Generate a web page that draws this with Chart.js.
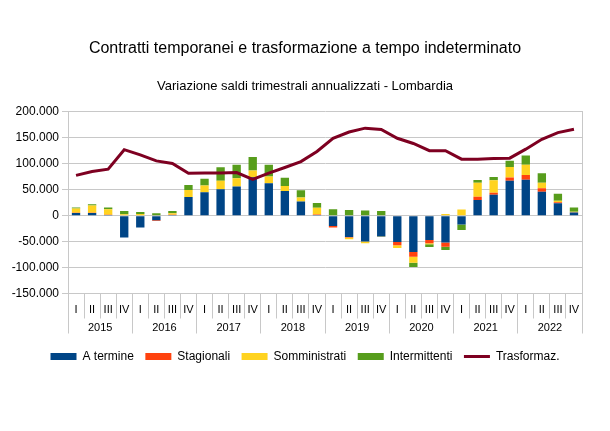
<!DOCTYPE html>
<html>
<head>
<meta charset="utf-8">
<script src="https://cdn.jsdelivr.net/npm/chart.js@4.4.1/dist/chart.umd.min.js"></script>
<style>
  html, body { margin: 0; padding: 0; background: #ffffff; }
  #wrap { width: 610px; height: 431px; }
</style>
</head>
<body>
<div id="wrap"><canvas id="c" width="610" height="431"></canvas></div>
<script>
const quarters = ['I','II','III','IV','I','II','III','IV','I','II','III','IV','I','II','III','IV',
                  'I','II','III','IV','I','II','III','IV','I','II','III','IV','I','II','III','IV'];
const years = ['2015','2016','2017','2018','2019','2020','2021','2022'];

const aTermine      = [5000, 5000, 1000, -42000, -23000, -9000, 1000, 36000,
                       45000, 51000, 56000, 74000, 62500, 47500, 27000, 1000,
                       -20000, -41000, -50000, -40000, -51000, -70000, -47000, -52000,
                       -17000, 30000, 40000, 67000, 69000, 46000, 24000, 6000];
const stagionali    = [500, 500, 500, 0, 0, -1500, 500, 0,
                       0, 0, 0, 0, 0, 0, 0, 1000,
                       -3000, -1000, 0, 0, -6000, -9000, -6000, -8000,
                       0, 6500, 4000, 6500, 9500, 6500, 2000, 500];
const somministrati = [8000, 14000, 11000, 2500, 3000, 0, 3000, 13500,
                       13000, 16000, 16000, 13000, 13000, 9700, 7700, 13000,
                       0, -3500, -3000, -1000, -5500, -12000, -2000, 3000,
                       12000, 27000, 24000, 20000, 19500, 11000, 2500, 1000];
const intermittenti = [2000, 2500, 3000, 6500, 4000, 4500, 4500, 9500,
                       13000, 26000, 26000, 26000, 22500, 16000, 14000, 9500,
                       12500, 11000, 9700, 9000, 0, -8000, -5500, -6000,
                       -10500, 5000, 6500, 12000, 18000, 18000, 13500, 8000];
const trasformaz    = [77500, 85000, 89500, 127000, 117000, 105500, 100500, 81700,
                       82000, 82000, 83000, 70000, 82000, 92700, 104000, 123500,
                       149000, 161000, 168500, 166000, 149000, 139000, 125000, 125000,
                       108700, 108700, 110000, 110700, 128000, 147000, 160000, 166500];

const FONT = "'Liberation Sans', Arial, sans-serif";
const GRID = '#c8c8c8';

function fmt(v) {
  const s = Math.abs(v).toString().replace(/\B(?=(\d{3})+(?!\d))/g, '.');
  return (v < 0 ? '-' : '') + s;
}

const barCommon = { type: 'bar', barPercentage: 0.52, categoryPercentage: 1.0, borderWidth: 0, stack: 'bars' };

new Chart(document.getElementById('c'), {
  data: {
    labels: quarters,
    datasets: [
      Object.assign({ label: 'A termine', data: aTermine, backgroundColor: '#004586' }, barCommon),
      Object.assign({ label: 'Stagionali', data: stagionali, backgroundColor: '#ff420e' }, barCommon),
      Object.assign({ label: 'Somministrati', data: somministrati, backgroundColor: '#ffd320' }, barCommon),
      Object.assign({ label: 'Intermittenti', data: intermittenti, backgroundColor: '#579d1c' }, barCommon),
      { type: 'line', label: 'Trasformaz.', data: trasformaz, borderColor: '#7e0021', backgroundColor: '#7e0021',
        borderWidth: 3, pointRadius: 0, tension: 0, fill: false, stack: 'line', order: -1 }
    ]
  },
  options: {
    responsive: false,
    animation: false,
    layout: { padding: { left: 8, right: 8, top: 0, bottom: 58.5 } },
    scales: {
      x: {
        type: 'category',
        position: 'bottom',
        weight: 0,
        stacked: true,
        offset: true,
        grid: { offset: true, drawOnChartArea: false, tickLength: 25, color: GRID },
        border: { display: true, color: GRID },
        ticks: { padding: -15, autoSkip: false, maxRotation: 0, color: '#000', font: { family: FONT, size: 11 } },
        afterFit: (s) => { s.height = 24; }
      },
      x2: {
        type: 'category',
        labels: years,
        position: 'bottom',
        weight: 1,
        offset: true,
        grid: { offset: true, drawOnChartArea: false, tickLength: 16, color: GRID },
        border: { display: false },
        ticks: { padding: -12, autoSkip: false, maxRotation: 0, color: '#000', font: { family: FONT, size: 11 } },
        afterFit: (s) => { s.height = 21.5; }
      },
      y: {
        stacked: true,
        min: -150000,
        max: 200000,
        grid: { color: GRID, tickLength: 6 },
        border: { display: true, color: GRID },
        ticks: { stepSize: 50000, padding: 3, color: '#000', font: { family: FONT, size: 12 }, callback: (v) => fmt(v) },
        afterFit: (s) => { s.width = 60; }
      },
      y2: {
        position: 'right',
        min: 0, max: 1,
        grid: { drawOnChartArea: false, drawTicks: false },
        border: { display: true, color: GRID },
        ticks: { display: false },
        afterFit: (s) => { s.width = 20; }
      }
    },
    plugins: {
      title: {
        display: true,
        text: 'Contratti temporanei e trasformazione a tempo indeterminato',
        color: '#000',
        font: { family: FONT, size: 16, weight: 'normal' },
        padding: { top: 39, bottom: 10 }
      },
      subtitle: {
        display: true,
        text: 'Variazione saldi trimestrali annualizzati - Lombardia',
        color: '#000',
        font: { family: FONT, size: 13, weight: 'normal' },
        padding: { top: 10, bottom: 18 }
      },
      legend: {
        display: true,
        position: 'bottom',
        labels: {
          usePointStyle: true,
          pointStyleWidth: 26,
          boxHeight: 7,
          padding: 11.5,
          color: '#000',
          font: { family: FONT, size: 12 },
          sort: (a, b) => a.datasetIndex - b.datasetIndex,
          generateLabels: (chart) => {
            const items = Chart.defaults.plugins.legend.labels.generateLabels(chart);
            items.forEach((it) => {
              const ds = chart.data.datasets[it.datasetIndex];
              if (ds.type === 'line') {
                it.pointStyle = 'line';
                it.lineWidth = 3;
                it.strokeStyle = ds.borderColor;
              } else {
                it.pointStyle = 'rect';
                it.lineWidth = 0;
                it.strokeStyle = ds.backgroundColor;
              }
            });
            return items;
          }
        }
      },
      tooltip: { enabled: false }
    }
  }
});
</script>
</body>
</html>
